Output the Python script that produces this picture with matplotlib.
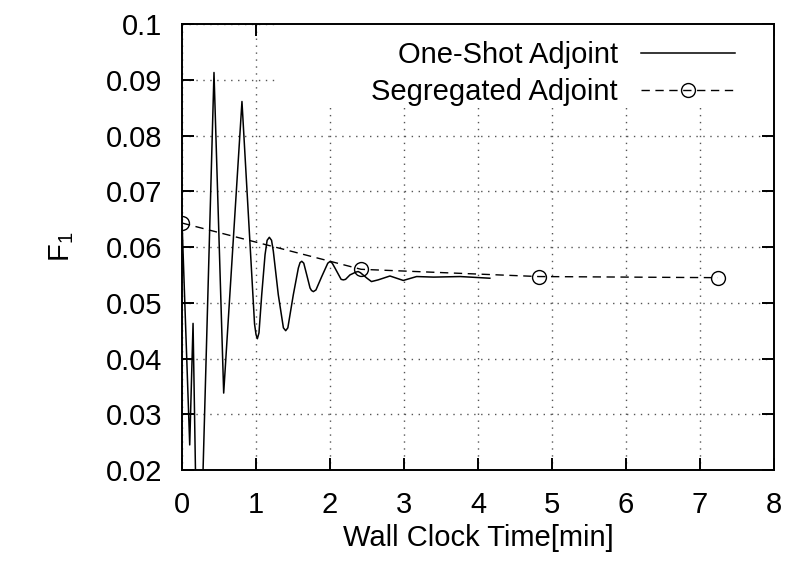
import matplotlib
matplotlib.use("Agg")
import matplotlib.pyplot as plt
from matplotlib.patches import Rectangle

plt.rcParams['font.family'] = ['Liberation Sans', 'DejaVu Sans']
plt.rcParams['mathtext.default'] = 'regular'

# One-shot adjoint history: F1 vs wall clock time [min]
oneshot_t = [0.0, 0.104, 0.149, 0.22, 0.432, 0.563, 0.81, 0.98, 1.0, 1.018,
             1.04, 1.077, 1.122, 1.15, 1.180, 1.21, 1.234, 1.301, 1.37, 1.401,
             1.43, 1.504, 1.572, 1.595, 1.618, 1.645, 1.685, 1.730, 1.75,
             1.775, 1.81, 1.888, 1.97, 2.0, 2.03, 2.068, 2.15, 2.18, 2.21,
             2.27, 2.35, 2.38, 2.41, 2.50, 2.56, 2.65, 2.81, 2.99, 3.17,
             3.40, 3.76, 4.16]
oneshot_f = [0.0645, 0.0245, 0.0463, -0.011, 0.0913, 0.0338, 0.0861, 0.0462,
             0.0443, 0.04355, 0.0446, 0.05144, 0.05862, 0.0612, 0.06174,
             0.0612, 0.05923, 0.05144, 0.0455, 0.04499, 0.0455, 0.05144,
             0.05623, 0.0572, 0.05744, 0.0571, 0.05503, 0.05265, 0.0522,
             0.0520, 0.0523, 0.0547, 0.0571, 0.0574, 0.0571, 0.0562, 0.0542,
             0.0541, 0.0542, 0.0550, 0.0555, 0.0556, 0.0554, 0.0544, 0.0538,
             0.0541, 0.0548, 0.0540, 0.0547, 0.0546, 0.0547, 0.0544]

# Segregated adjoint: one value per full solve
segregated_t = [0.0, 2.42, 4.82, 7.24]
segregated_f = [0.0643, 0.0560, 0.0547, 0.0545]

fig = plt.figure(figsize=(7.89, 5.66), dpi=100)
ax = fig.add_axes([0.2307, 0.1696, 0.7503, 0.7880])

ax.plot(oneshot_t, oneshot_f, color='black', lw=1.1, label='One-Shot Adjoint', zorder=3)
ax.plot(segregated_t, segregated_f, color='black', lw=1.0, dashes=(6, 4),
        marker='o', ms=10, mfc='none', mec='black', mew=1.0,
        label='Segregated Adjoint', zorder=3)

ax.set_xlim(0, 8)
ax.set_ylim(0.02, 0.1)
ax.set_xticks(range(0, 9))
ax.set_yticks([0.02, 0.03, 0.04, 0.05, 0.06, 0.07, 0.08, 0.09, 0.1])
ax.set_yticklabels(['0.02', '0.03', '0.04', '0.05', '0.06', '0.07', '0.08', '0.09', '0.1'])

ax.set_axisbelow(True)
ax.grid(True, color='#555555', lw=1.0, linestyle=(0, (1, 4)))
# keep the grid out of the key area
ax.add_patch(Rectangle((0.157, 0.814), 0.85, 0.2, transform=ax.transAxes,
                       facecolor='white', edgecolor='none', zorder=1))

ax.tick_params(direction='in', length=8.6, width=1.4, top=True, right=True,
               labelsize=21)
ax.tick_params(axis='y', pad=14)
ax.tick_params(axis='x', pad=15)
for s in ax.spines.values():
    s.set_linewidth(1.4)

ax.set_xlabel('Wall Clock Time[min]', fontsize=21, labelpad=4)
ax.set_ylabel('F$_1$', fontsize=21, labelpad=22)

ax.legend(loc='upper right', bbox_to_anchor=(1.0, 1.05), frameon=False,
          markerfirst=False, fontsize=21, handlelength=3.2, handletextpad=0.8,
          labelspacing=0.3, borderaxespad=0.95, numpoints=1)

fig.savefig('out.png', dpi=100)
